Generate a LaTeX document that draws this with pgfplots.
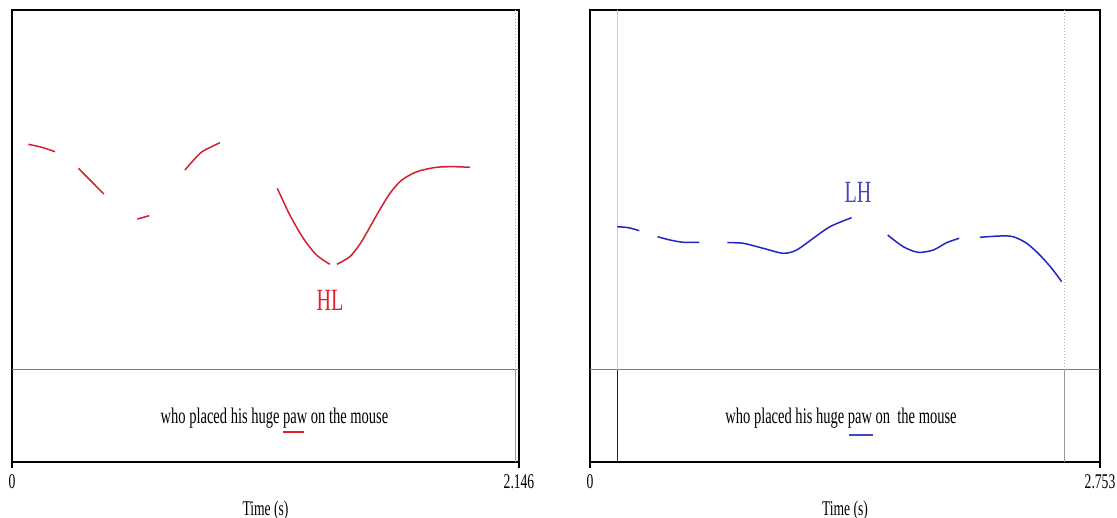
\documentclass[border=0pt]{standalone}
\usepackage{fontspec}
\setmainfont[FakeStretch=0.65]{Liberation Serif}
\usepackage{pgfplots}
\pgfplotsset{compat=1.18}

\definecolor{pitchred}{HTML}{D2202C}
\definecolor{labred}{HTML}{E0202A}
\definecolor{pitchblue}{HTML}{2424C4}
\definecolor{labblue}{HTML}{4446C0}
\definecolor{tiergray}{HTML}{7A7A7A}

\pgfplotsset{
  praat/.style={
    scale only axis,
    height=226bp,
    ymin=0, ymax=452,
    ytick=\empty,
    xtick pos=bottom,
    tick align=outside,
    major tick length=3bp,
    axis line style={black, line width=0.7bp},
    tick style={black, line width=0.7bp},
    /pgf/number format/assume math mode=true,
    ticklabel style={font=\fontsize{10.5}{12}\selectfont},
    xlabel={Time (s)},
    xlabel style={font=\fontsize{10.5}{12}\selectfont, at={(axis description cs:0.5,0)}, anchor=center, yshift=-24bp},
    clip=false,
  },
  pitch/.style={smooth, line width=0.75bp},
}

\begin{document}
\begin{tikzpicture}
\path[use as bounding box] (-6bp,-28bp) rectangle (552.5bp,231bp);

% left panel: HL
\begin{axis}[praat, at={(0,0)}, anchor=south west, width=253.5bp,
    xmin=0, xmax=2.146, xtick={0,2.146}, xticklabels={0,2.146}]
  \draw[tiergray, line width=0.5bp] (axis cs:0,92) -- (axis cs:2.146,92);
  \draw[gray!60, densely dotted, line width=0.5bp] (axis cs:2.133,92) -- (axis cs:2.133,452);
  \draw[gray!80, line width=0.5bp] (axis cs:2.133,0) -- (axis cs:2.133,92);

  \addplot[pitchred, pitch] coordinates {(0.069,317.7) (0.126,314.7) (0.182,310.3)};
  \addplot[pitchred, pitch] coordinates {(0.281,293.7) (0.330,282.0) (0.389,268.0)};
  \addplot[pitchred, pitch] coordinates {(0.530,243.0) (0.554,244.5) (0.581,246.3)};
  \addplot[pitchred, pitch] coordinates {(0.732,292.0) (0.796,308.7) (0.838,314.5) (0.880,319.3)};
  \addplot[pitchred, pitch] coordinates {(1.123,273.7) (1.176,247.0) (1.233,223.7) (1.289,207.0) (1.346,197.7)};
  \addplot[pitchred, pitch] coordinates {(1.375,197.7) (1.430,205.3) (1.473,218.0) (1.508,232.0) (1.556,252.0)
    (1.600,268.7) (1.642,280.3) (1.684,287.0) (1.727,291.3) (1.797,294.7) (1.868,295.3) (1.938,294.7)};

  \node[labred, font=\fontsize{15.5}{17}\selectfont] at (axis cs:1.346,162) {HL};
  \node[anchor=base, font=\fontsize{11.2}{13}\selectfont] at (axis cs:1.111,39) {who placed his huge paw on the mouse};
  \draw[labred, line width=1bp] (axis cs:1.147,30.3) -- (axis cs:1.236,30.3);
\end{axis}

% right panel: LH
\begin{axis}[praat, at={(289bp,0)}, anchor=south west, width=255bp,
    xmin=0, xmax=2.753, xtick={0,2.753}, xticklabels={0,2.753}]
  \draw[tiergray, line width=0.5bp] (axis cs:0,92) -- (axis cs:2.753,92);
  \draw[gray!40, line width=0.5bp] (axis cs:0.146,92) -- (axis cs:0.146,452);
  \draw[black!85, line width=0.5bp] (axis cs:0.146,0) -- (axis cs:0.146,92);
  \draw[gray!60, densely dotted, line width=0.5bp] (axis cs:2.563,92) -- (axis cs:2.563,452);
  \draw[gray!80, line width=0.5bp] (axis cs:2.563,0) -- (axis cs:2.563,92);

  \addplot[pitchblue, pitch] coordinates {(0.147,235.3) (0.207,234.3) (0.266,231.3)};
  \addplot[pitchblue, pitch] coordinates {(0.365,225.3) (0.432,222.0) (0.504,219.7) (0.590,219.7)};
  \addplot[pitchblue, pitch] coordinates {(0.741,219.3) (0.827,218.7) (0.935,213.7) (1.043,208.7) (1.115,212.0)
    (1.205,223.7) (1.295,235.3) (1.412,244.3)};
  \addplot[pitchblue, pitch] coordinates {(1.607,227.0) (1.691,215.3) (1.772,209.7) (1.853,212.0) (1.925,219.3) (1.993,223.7)};
  \addplot[pitchblue, pitch] coordinates {(2.105,224.7) (2.213,226.0) (2.284,225.3) (2.357,218.7) (2.428,207.0)
    (2.492,193.7) (2.546,180.3)};

  \node[labblue, font=\fontsize{15.5}{17}\selectfont] at (axis cs:1.447,269.3) {LH};
  \node[anchor=base, font=\fontsize{11.2}{13}\selectfont] at (axis cs:1.355,39) {who placed his huge paw on\ \ the mouse};
  \draw[labblue, line width=1bp] (axis cs:1.398,27) -- (axis cs:1.525,27);
\end{axis}
\end{tikzpicture}
\end{document}
